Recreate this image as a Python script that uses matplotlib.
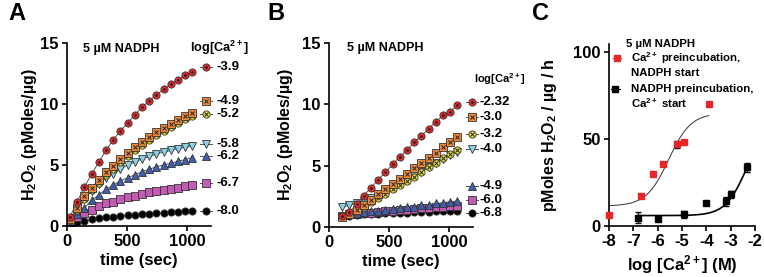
import numpy as np
import matplotlib
matplotlib.use("Agg")
import matplotlib.pyplot as plt

plt.rcParams['font.family'] = ['Liberation Sans', 'DejaVu Sans']
plt.rcParams['font.weight'] = 'bold'
plt.rcParams['axes.labelweight'] = 'bold'
plt.rcParams['mathtext.fontset'] = 'custom'
plt.rcParams['mathtext.rm'] = 'Liberation Sans:bold'
plt.rcParams['mathtext.it'] = 'Liberation Sans:bold'
plt.rcParams['mathtext.bf'] = 'Liberation Sans:bold'
plt.rcParams['axes.unicode_minus'] = False

# ---- panel A data (Ca2+ preincubation, NADPH start) ----
time_a = [25, 85, 145, 205, 265, 325, 385, 445, 505, 565, 625, 685, 745, 805, 865, 925, 985, 1045]
a_m39 = [0.75, 2.0, 3.2, 4.25, 5.25, 6.2, 7.05, 7.8, 8.45, 9.1, 9.75, 10.25, 10.75, 11.2, 11.6, 12.0, 12.35, 12.65]
a_m49 = [0.6, 1.45, 2.45, 3.15, 3.8, 4.4, 4.95, 5.5, 6.0, 6.45, 6.9, 7.3, 7.7, 8.05, 8.4, 8.7, 9.0, 9.3]
a_m52 = [0.5, 1.3, 2.2, 2.95, 3.55, 4.15, 4.7, 5.25, 5.75, 6.2, 6.65, 7.05, 7.45, 7.8, 8.15, 8.45, 8.75, 9.0]
a_m58 = [0.45, 1.25, 2.2, 2.9, 3.45, 3.9, 4.3, 4.65, 5.0, 5.25, 5.5, 5.7, 5.9, 6.05, 6.2, 6.35, 6.45, 6.55]
a_m62 = [0.4, 0.95, 1.5, 2.1, 2.55, 3.0, 3.35, 3.7, 3.95, 4.2, 4.45, 4.65, 4.85, 5.0, 5.15, 5.3, 5.45, 5.6]
a_m67 = [0.3, 0.7, 1.05, 1.35, 1.6, 1.85, 2.0, 2.2, 2.35, 2.5, 2.6, 2.75, 2.85, 2.95, 3.05, 3.15, 3.25, 3.35]
a_m80 = [0.15, 0.3, 0.45, 0.55, 0.62, 0.7, 0.76, 0.82, 0.88, 0.93, 0.98, 1.02, 1.06, 1.1, 1.14, 1.18, 1.22, 1.25]
labels_a = ['-3.9', '-4.9', '-5.2', '-5.8', '-6.2', '-6.7', '-8.0']

# ---- panel B data (NADPH preincubation, Ca2+ start) ----
time_b = [110, 170, 230, 290, 350, 410, 470, 530, 590, 650, 710, 770, 830, 890, 950, 1010, 1070]
b_m232 = [0.85, 1.2, 1.85, 2.55, 3.2, 3.85, 4.45, 5.1, 5.7, 6.3, 6.9, 7.45, 8.0, 8.6, 9.1, 9.4, 9.95]
b_m30 = [0.8, 1.05, 1.4, 1.8, 2.2, 2.65, 3.1, 3.5, 3.9, 4.35, 4.8, 5.2, 5.65, 6.05, 6.5, 6.95, 7.3]
b_m32 = [0.9, 1.05, 1.3, 1.65, 2.0, 2.35, 2.7, 3.05, 3.4, 3.75, 4.1, 4.5, 4.9, 5.25, 5.6, 5.95, 6.3]
b_m40 = [1.6, 1.75, 1.9, 2.1, 2.35, 2.6, 2.9, 3.2, 3.5, 3.85, 4.2, 4.5, 4.85, 5.2, 5.55, 5.85, 6.15]
b_m49 = [0.9, 1.0, 1.1, 1.2, 1.25, 1.3, 1.35, 1.45, 1.5, 1.6, 1.65, 1.75, 1.8, 1.9, 1.95, 2.05, 2.1]
b_m60 = [0.9, 1.0, 1.05, 1.1, 1.15, 1.2, 1.25, 1.3, 1.35, 1.4, 1.45, 1.5, 1.55, 1.6, 1.65, 1.7, 1.7]
b_m68 = [0.85, 0.9, 0.95, 1.0, 1.02, 1.05, 1.08, 1.1, 1.12, 1.15, 1.18, 1.2, 1.22, 1.25, 1.27, 1.28, 1.3]
labels_b = ['-2.32', '-3.0', '-3.2', '-4.0', '-4.9', '-6.0', '-6.8']

# ---- panel C data (rates vs log[Ca2+]) ----
ca_red = [-8.0, -6.7, -6.2, -5.8, -5.2, -4.9, -3.9]
rate_red = [6.5, 17.5, 30.0, 35.5, 47.0, 48.5, 70.5]
err_red = [0, 0, 0, 0, 2.0, 0, 0]
ca_black = [-6.8, -6.0, -4.9, -4.0, -3.2, -3.0, -2.32]
rate_black = [4.8, 4.2, 6.7, 13.0, 14.3, 18.3, 33.8]
err_black = [3.0, 1.2, 2.0, 0, 2.5, 2.0, 2.5]
# sigmoid fit parameters (bottom, top, logEC50, hill)
fit_red = (11.5, 65.0, -5.55, 0.95)
fit_black = (6.0, 60.0, -2.35, 1.0)

# marker styles, top legend entry first
RED, ORANGE, YELLOW = '#E8262A', '#EE8A3A', '#E6E02A'
CYAN, BLUE, MAGENTA = '#86D4E6', '#3F5FAE', '#C25BB4'
styles = [
    dict(marker='o', face=RED, inner='.', ims=2.5),
    dict(marker='s', face=ORANGE, inner='x', ims=3.3),
    dict(marker='o', face=YELLOW, inner='x', ims=3.3),
    dict(marker='v', face=CYAN, inner=None, ims=0),
    dict(marker='^', face=BLUE, inner=None, ims=0),
    dict(marker='s', face=MAGENTA, inner=None, ims=0),
    dict(marker='o', face='black', inner=None, ims=0),
]


def draw_marks(ax, x, y, st, with_line=True, **kw):
    ls = '-' if with_line else 'none'
    ax.plot(x, y, ls=ls, color='#555555', lw=0.7, marker=st['marker'], ms=5.2,
            mfc=st['face'], mec='#333333', mew=0.6, **kw)
    if st['inner']:
        ax.plot(x, y, ls='none', marker=st['inner'], ms=st['ims'], color='#222222',
                mew=0.7, **kw)


def style_axes(ax):
    for s in ['top', 'right']:
        ax.spines[s].set_visible(False)
    for s in ['left', 'bottom']:
        ax.spines[s].set_linewidth(1.2)
    ax.tick_params(width=1.2, length=3.5, labelsize=12, pad=2.5)


def time_panel(ax, t, series, labels, leg_y, leg_x, seg, lab_x, head_xy, head_fs, ypad):
    for y, st in list(zip(series, styles))[::-1]:
        draw_marks(ax, t, y, st)
    for st, ly, lab in zip(styles, leg_y, labels):
        ax.plot(seg, [ly, ly], color='#555555', lw=0.7, clip_on=False)
        draw_marks(ax, [leg_x], [ly], st, with_line=False, clip_on=False)
        ax.text(lab_x, ly, lab, fontsize=9.5, va='center', ha='left')
    ax.text(head_xy[0], head_xy[1], 'log[Ca$^{2+}$]', fontsize=head_fs, va='baseline')
    ax.set_xlim(0, 1200)
    ax.set_ylim(0, 15)
    ax.set_xticks([0, 500, 1000])
    ax.set_yticks([0, 5, 10, 15])
    ax.set_xlabel('time (sec)', fontsize=12, labelpad=3)
    ax.set_ylabel('H$_2$O$_2$ (pMoles/µg)', fontsize=11.5, labelpad=ypad)
    style_axes(ax)


fig = plt.figure(figsize=(7.64, 2.77), dpi=100)
W, H = 764, 277
ax_a = fig.add_axes([67 / W, 51 / H, 144 / W, 183 / H])
ax_b = fig.add_axes([329 / W, 50.3 / H, 144 / W, 183.4 / H])
ax_c = fig.add_axes([609 / W, 51 / H, 146 / W, 182.3 / H])

# panel A
time_panel(ax_a, time_a, [a_m39, a_m49, a_m52, a_m58, a_m62, a_m67, a_m80], labels_a,
           [13.0, 10.25, 9.2, 6.75, 5.7, 3.55, 1.25], 1160, [1110, 1210], 1250,
           (1025, 14.3), 9.2, 1)
ax_a.text(133, 14.3, '5 µM NADPH', fontsize=9, va='baseline')

# panel B
time_panel(ax_b, time_b, [b_m232, b_m30, b_m32, b_m40, b_m49, b_m60, b_m68], labels_b,
           [10.2, 8.95, 7.6, 6.35, 3.3, 2.2, 1.1], 1190, [1145, 1240], 1255,
           (1205, 11.75), 8, 5)
ax_b.text(147, 14.35, '5 µM NADPH', fontsize=9, va='baseline')


# panel C
def sigmoid(x, p):
    bottom, top, ec50, hill = p
    return bottom + (top - bottom) / (1 + 10 ** ((ec50 - x) * hill))


xr = np.linspace(ca_red[0], ca_red[-1], 200)
xb = np.linspace(ca_black[0], ca_black[-1], 200)
ax_c.plot(xr, sigmoid(xr, fit_red), color='#333333', lw=0.7)
ax_c.plot(xb, sigmoid(xb, fit_black), color='black', lw=1.2)
ax_c.errorbar(ca_red, rate_red, yerr=err_red, fmt='s', ms=5, mfc=RED, mec=RED,
              ecolor='black', elinewidth=0.9, capsize=2.5, clip_on=False, zorder=3)
ax_c.errorbar(ca_black, rate_black, yerr=err_black, fmt='s', ms=5, mfc='black',
              mec='black', ecolor='black', elinewidth=0.9, capsize=2.5, zorder=3)
ax_c.set_xlim(-8, -2)
ax_c.set_ylim(0, 105)
ax_c.set_xticks([-8, -7, -6, -5, -4, -3, -2])
ax_c.set_yticks([0, 50, 100])
ax_c.set_xlabel('log [Ca$^{2+}$] (M)', fontsize=12, labelpad=3)
ax_c.set_ylabel('pMoles H$_2$O$_2$ / µg / h', fontsize=11.5, labelpad=10)
style_axes(ax_c)

# legend of panel C
ax_c.text(-7.3, 103.2, '5 µM NADPH', fontsize=8.2, va='baseline')
ax_c.plot([-7.85, -7.5], [97, 97], color=RED, lw=0.8, clip_on=False)
ax_c.plot([-7.68], [97], 's', ms=4, color=RED, clip_on=False)
ax_c.text(-7.1, 94.3, 'Ca$^{2+}$ preincubation,', fontsize=8.2, va='baseline')
ax_c.text(-7.1, 86.4, 'NADPH start', fontsize=8.2, va='baseline')
ax_c.plot([-7.9, -7.55], [79, 79], color='black', lw=0.8, clip_on=False)
ax_c.plot([-7.75], [79], 's', ms=4, color='black', clip_on=False)
ax_c.text(-7.1, 77.3, 'NADPH preincubation,', fontsize=8.2, va='baseline')
ax_c.text(-7.1, 68.1, 'Ca$^{2+}$ start', fontsize=8.2, va='baseline')

# panel letters
for x, lab in [(8, 'A'), (267, 'B'), (532, 'C')]:
    fig.text(x / W, 1 - 20 / H, lab, fontsize=17, fontweight='bold', va='baseline')

fig.savefig('out.png', dpi=100)
